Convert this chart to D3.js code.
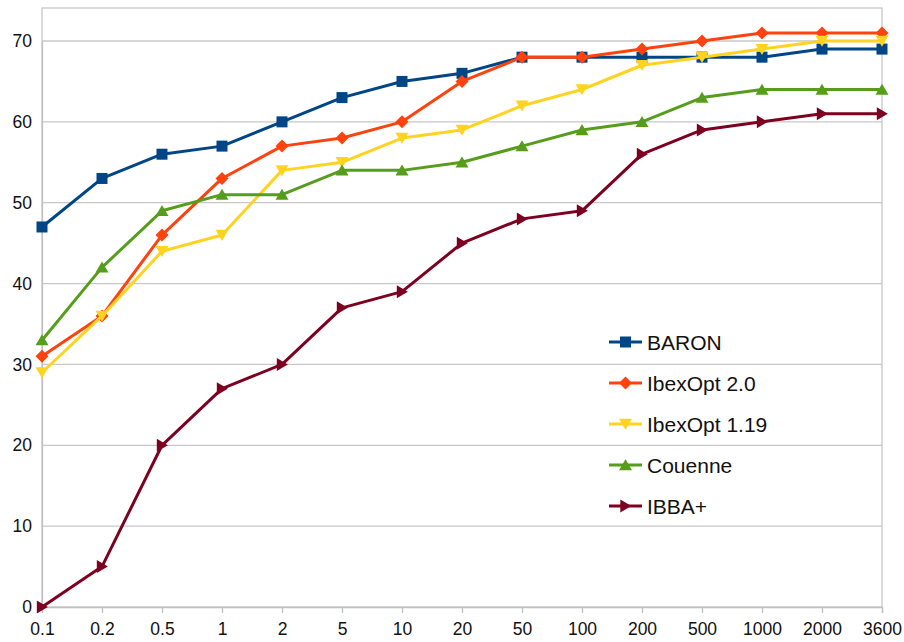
<!DOCTYPE html>
<html><head><meta charset="utf-8">
<script src="https://cdn.jsdelivr.net/npm/d3@7"></script>
<style>body{margin:0;background:#fff}svg{display:block}text{font-family:"Liberation Sans",Arial,sans-serif;fill:#111}</style>
</head><body>
<script>
const categories = ["0.1","0.2","0.5","1","2","5","10","20","50","100","200","500","1000","2000","3600"];
const yTicks = [0,10,20,30,40,50,60,70];
const seriesNames = ["BARON","IbexOpt 2.0","IbexOpt 1.19","Couenne","IBBA+"];
const baron   = [47,53,56,57,60,63,65,66,68,68,68,68,68,69,69];
const ibex20  = [31,36,46,53,57,58,60,65,68,68,69,70,71,71,71];
const ibex119 = [29,36,44,46,54,55,58,59,62,64,67,68,69,70,70];
const couenne = [33,42,49,51,51,54,54,55,57,59,60,63,64,64,64];
const ibba    = [0,5,20,27,30,37,39,45,48,49,56,59,60,61,61];
const colors  = ["#004586","#ff420e","#ffd320","#579d1c","#7e0021"];
const symbols = ["square","diamond","down","up","right"];
const values  = [baron, ibex20, ibex119, couenne, ibba];

(function(){
const W=904,H=642;
const svg=d3.select("body").append("svg").attr("width",W).attr("height",H);
const pl=42,pr=882,pt=8,pb=607;
const x=d3.scalePoint().domain(categories).range([pl,pr]);
const y=d3.scaleLinear().domain([0,70]).range([pb,41]);

svg.append("g").selectAll("line").data(yTicks.filter(d=>d>0)).join("line")
  .attr("x1",pl).attr("x2",pr).attr("y1",d=>y(d)).attr("y2",d=>y(d))
  .attr("stroke","#c8c8c8").attr("stroke-width",1.3);
svg.append("rect").attr("x",pl).attr("y",pt).attr("width",pr-pl).attr("height",pb-pt)
  .attr("fill","none").attr("stroke","#c8c8c8").attr("stroke-width",1.3);

const xa=svg.append("g").attr("transform",`translate(0,${pb})`)
  .call(d3.axisBottom(x).tickSize(6).tickPadding(10));
xa.select(".domain").attr("stroke","#c0c0c0").attr("stroke-width",1.3);
xa.selectAll(".tick line").attr("stroke","#c0c0c0").attr("stroke-width",1.3);
xa.selectAll("text").style("font-size","17.5px").attr("fill","#111").attr("font-family","Liberation Sans, Arial, sans-serif");

const ya=svg.append("g").attr("transform",`translate(${pl},0)`)
  .call(d3.axisLeft(y).tickValues(yTicks).tickSize(0).tickPadding(10));
ya.select(".domain").attr("stroke","#c0c0c0").attr("stroke-width",1.3);
ya.selectAll("text").style("font-size","17.5px").attr("fill","#111").attr("font-family","Liberation Sans, Arial, sans-serif");

function marker(g,type,color,cx,cy){
  if(type==="square"){
    g.append("rect").attr("x",cx-5.5).attr("y",cy-5.5).attr("width",11).attr("height",11).attr("fill",color);
  } else {
    let pts;
    const r=6.5;
    if(type==="diamond") pts=[[0,-r],[r,0],[0,r],[-r,0]];
    if(type==="down") pts=[[-r,-r*0.8],[r,-r*0.8],[0,r*0.9]];
    if(type==="up") pts=[[-r,r*0.8],[r,r*0.8],[0,-r*0.9]];
    if(type==="right") pts=[[-r*0.8,-r],[-r*0.8,r],[r*0.9,0]];
    g.append("polygon").attr("points",pts.map(p=>[cx+p[0],cy+p[1]].join(",")).join(" ")).attr("fill",color);
  }
}

const line=d3.line().x((d,i)=>x(categories[i])).y(d=>y(d));
values.forEach((vals,si)=>{
  const g=svg.append("g");
  g.append("path").datum(vals).attr("d",line).attr("fill","none")
    .attr("stroke",colors[si]).attr("stroke-width",3).attr("stroke-linejoin","round");
  vals.forEach((v,i)=>marker(g,symbols[si],colors[si],x(categories[i]),y(v)));
});

const lg=svg.append("g");
seriesNames.forEach((n,i)=>{
  const ly=342+i*41;
  lg.append("line").attr("x1",609).attr("x2",642).attr("y1",ly).attr("y2",ly)
    .attr("stroke",colors[i]).attr("stroke-width",3);
  marker(lg,symbols[i],colors[i],625.5,ly);
  lg.append("text").attr("x",647).attr("y",ly).attr("dy","0.36em")
    .style("font-size","21px").text(n);
});
})();
</script>
</body></html>
